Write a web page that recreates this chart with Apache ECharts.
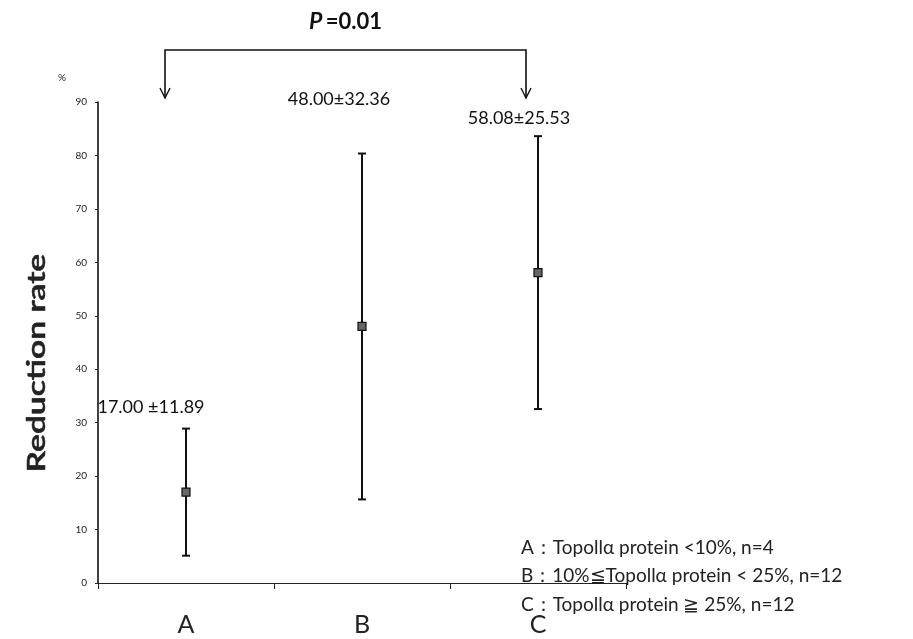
<!DOCTYPE html>
<html>
<head>
<meta charset="utf-8">
<script src="https://cdn.jsdelivr.net/npm/echarts@6/dist/echarts.min.js"></script>
<style>
html,body{margin:0;padding:0;background:#fff;}
#chart{width:913px;height:639px;}
</style>
</head>
<body>
<div id="chart"></div>
<script>
var categories = ['A', 'B', 'C'];
var means = [17.00, 48.00, 58.08];
var sds = [11.89, 32.36, 25.53];
var valueLabels = ['17.00 ±11.89', '48.00±32.36', '58.08±25.53'];
var yTicks = [0, 10, 20, 30, 40, 50, 60, 70, 80, 90];
var legendLines = [
  'A\uFF1ATopollα protein <10%, n=4',
  'B\uFF1A10%≦Topollα protein < 25%, n=12',
  'C\uFF1ATopollα protein ≧ 25%, n=12'
];
var pText = '=0.01';

var seriesData = categories.map(function (c, i) {
  return [i, means[i], means[i] - sds[i], means[i] + sds[i]];
});

// label offsets (styling only), in px relative to top of error bar
var labelOffsets = [[-35, -21], [-23, -54], [-19, -18]];

var chart = echarts.init(document.getElementById('chart'));
var FONT = 'Lato, "Open Sans", sans-serif';

var option = {
  backgroundColor: '#fff',
  animation: false,
  grid: { left: 98, right: 287, top: 102, bottom: 56, containLabel: false },
  xAxis: {
    type: 'category',
    data: categories,
    boundaryGap: true,
    axisLine: { lineStyle: { color: '#222', width: 1.2 } },
    axisTick: { show: true, length: 6, alignWithLabel: false, lineStyle: { color: '#222' } },
    axisLabel: { fontSize: 25, color: '#222', fontFamily: FONT, margin: 29 }
  },
  yAxis: {
    type: 'value',
    min: 0, max: 90, interval: 10,
    axisLine: { show: true, lineStyle: { color: '#111', width: 1.6 } },
    axisTick: { show: true, length: 3, lineStyle: { color: '#222' } },
    splitLine: { show: false },
    axisLabel: {
      fontSize: 10, color: '#222', fontFamily: FONT, margin: 11,
      formatter: function (v) { return yTicks.indexOf(v) >= 0 ? String(v) : ''; }
    }
  },
  series: [{
    type: 'custom',
    data: seriesData,
    renderItem: function (params, api) {
      var i = api.value(0);
      var mid = api.coord([i, api.value(1)]);
      var lo = api.coord([i, api.value(2)]);
      var hi = api.coord([i, api.value(3)]);
      var cap = 4;
      var ms = 4;
      var off = labelOffsets[params.dataIndex];
      return {
        type: 'group',
        children: [
          { type: 'line', shape: { x1: lo[0], y1: lo[1], x2: hi[0], y2: hi[1] }, style: { stroke: '#111', lineWidth: 2 } },
          { type: 'line', shape: { x1: hi[0] - cap, y1: hi[1], x2: hi[0] + cap, y2: hi[1] }, style: { stroke: '#111', lineWidth: 2 } },
          { type: 'line', shape: { x1: lo[0] - cap, y1: lo[1], x2: lo[0] + cap, y2: lo[1] }, style: { stroke: '#111', lineWidth: 2 } },
          { type: 'rect', shape: { x: mid[0] - ms, y: mid[1] - ms, width: ms * 2, height: ms * 2 }, style: { fill: '#666', stroke: '#111', lineWidth: 1.2 } },
          { type: 'text', style: { text: valueLabels[params.dataIndex], x: hi[0] + off[0], y: hi[1] + off[1], textAlign: 'center', textVerticalAlign: 'middle', font: '18px ' + FONT, fill: '#111' } }
        ]
      };
    }
  }],
  graphic: []
};
chart.setOption(option);

// annotations: bracket between A and C, P value, legend text, titles
var pA = chart.convertToPixel({ xAxisIndex: 0 }, 'A');
var pC = chart.convertToPixel({ xAxisIndex: 0 }, 'C');
var bx1 = pA - 21, bx2 = pC - 12, by = 50, tipY = 98;
var graphics = [
  { type: 'polyline', shape: { points: [[bx1, tipY], [bx1, by], [bx2, by], [bx2, tipY]] }, style: { stroke: '#111', lineWidth: 1.6, fill: null } },
  { type: 'polyline', shape: { points: [[bx1 - 5, tipY - 10], [bx1, tipY], [bx1 + 5, tipY - 10]] }, style: { stroke: '#111', lineWidth: 1.4, fill: null } },
  { type: 'polyline', shape: { points: [[bx2 - 5, tipY - 10], [bx2, tipY], [bx2 + 5, tipY - 10]] }, style: { stroke: '#111', lineWidth: 1.4, fill: null } },
  {
    type: 'text', x: (bx1 + bx2) / 2, y: 22,
    style: { text: '{p|P} {v|' + pText + '}', textAlign: 'center', textVerticalAlign: 'middle', rich: {
      p: { font: 'italic bold 23px ' + FONT, fill: '#111' },
      v: { font: 'bold 22px ' + FONT, fill: '#111' }
    } }
  },
  { type: 'text', left: 58, top: 73, style: { text: '%', font: '10px ' + FONT, fill: '#222' } },
  {
    type: 'text', x: 37, y: 363, rotation: Math.PI / 2, scaleX: 1.4,
    style: { text: 'Reduction rate', font: '600 24px ' + FONT, fill: '#222', textAlign: 'center', textVerticalAlign: 'middle', stroke: '#222', lineWidth: 0.5 }
  }
];
legendLines.forEach(function (t, k) {
  graphics.push({ type: 'text', left: 521, top: 538 + k * 28.5, style: { text: t, font: '19px ' + FONT, fill: '#222' } });
});
chart.setOption({ graphic: graphics });
</script>
</body>
</html>
